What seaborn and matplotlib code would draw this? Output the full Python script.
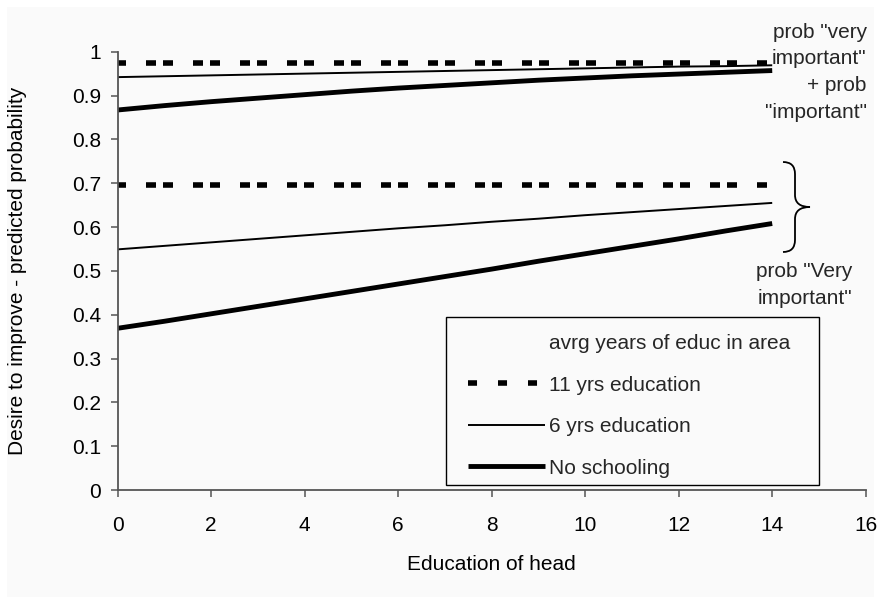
import matplotlib
matplotlib.use("Agg")
import matplotlib.pyplot as plt
import seaborn as sns
from matplotlib.lines import Line2D
from matplotlib.patches import Rectangle, PathPatch
from matplotlib.path import Path

# ---------------- data ----------------
educ_head = [0, 1, 2, 3, 4, 5, 6, 7, 8, 9, 10, 11, 12, 13, 14]

# prob "very important" + prob "important"
yrs11_total = [0.975, 0.975, 0.975, 0.975, 0.975, 0.975, 0.975, 0.975,
               0.975, 0.975, 0.975, 0.975, 0.975, 0.975, 0.975]
yrs6_total = [0.942, 0.944, 0.946, 0.948, 0.950, 0.952, 0.954, 0.956,
              0.958, 0.960, 0.962, 0.964, 0.966, 0.967, 0.969]
none_total = [0.867, 0.877, 0.886, 0.894, 0.902, 0.910, 0.917, 0.923,
              0.929, 0.935, 0.940, 0.945, 0.949, 0.953, 0.957]

# prob "Very important"
yrs11_very = [0.695, 0.695, 0.695, 0.695, 0.695, 0.695, 0.695, 0.695,
              0.695, 0.695, 0.695, 0.695, 0.695, 0.695, 0.695]
yrs6_very = [0.549, 0.557, 0.565, 0.573, 0.581, 0.589, 0.597, 0.604,
             0.612, 0.619, 0.627, 0.634, 0.641, 0.648, 0.655]
none_very = [0.369, 0.385, 0.402, 0.419, 0.436, 0.453, 0.470, 0.487,
             0.504, 0.522, 0.539, 0.556, 0.573, 0.591, 0.608]

series_labels = ["11 yrs education", "6 yrs education", "No schooling"]
legend_title = "avrg years of educ in area"
x_ticks = [0, 2, 4, 6, 8, 10, 12, 14, 16]
y_ticks = [0, 0.1, 0.2, 0.3, 0.4, 0.5, 0.6, 0.7, 0.8, 0.9, 1.0]
y_tick_labels = ["0", "0.1", "0.2", "0.3", "0.4", "0.5", "0.6", "0.7", "0.8", "0.9", "1"]

# ---------------- style ----------------
sns.set_theme(style="white")
plt.rcParams["font.family"] = ["Liberation Sans", "DejaVu Sans"]
plt.rcParams["lines.scale_dashes"] = False

FS = 15
W, H = 880, 603

def fx(px):
    return px / W

def fy(py):
    return 1 - py / H

fig = plt.figure(figsize=(8.8, 6.03), dpi=100)
fig.patch.set_facecolor("white")
fig.add_artist(Rectangle((fx(7), fy(597)), (874 - 7) / W, (597 - 7) / H,
                         transform=fig.transFigure, facecolor="#fafafa",
                         edgecolor="none", zorder=-10))

ax = fig.add_axes([fx(117.7), fy(490), 748 / W, 438.3 / H])
ax.set_facecolor("none")

dash_main = (1.44, (7.2, 14.4, 7.2, 5.04))
LW_DASH, LW_THIN, LW_THICK = 4.0, 1.4, 3.5

for ys in (yrs11_total, yrs11_very):
    sns.lineplot(x=educ_head, y=ys, ax=ax, color="black", linewidth=LW_DASH,
                 linestyle=dash_main)
for ys in (yrs6_total, yrs6_very):
    sns.lineplot(x=educ_head, y=ys, ax=ax, color="black", linewidth=LW_THIN,
                 solid_capstyle="butt")
for ys in (none_total, none_very):
    sns.lineplot(x=educ_head, y=ys, ax=ax, color="black", linewidth=LW_THICK,
                 solid_capstyle="butt")

ax.set_xlim(0, 16)
ax.set_ylim(0, 1)
ax.set_xticks(x_ticks)
ax.set_yticks(y_ticks)
ax.set_yticklabels(y_tick_labels)
for s in ("top", "right"):
    ax.spines[s].set_visible(False)
for s in ("left", "bottom"):
    ax.spines[s].set_color("#555555")
    ax.spines[s].set_linewidth(1.3)
ax.tick_params(axis="both", direction="out", length=5, width=1.1, color="#555555",
               labelsize=FS, labelcolor="black", bottom=True, left=True)
ax.tick_params(axis="x", pad=14)
ax.tick_params(axis="y", pad=7)

ax.set_xlabel("Education of head", fontsize=FS, color="black")
ax.xaxis.set_label_coords(0.5, (490 - 565) / 438.3)
ax.xaxis.label.set_va("center")
ax.set_ylabel("Desire to improve - predicted probability", fontsize=FS, color="black")
ax.yaxis.set_label_coords((18 - 117.7) / 748, 0.5)
ax.yaxis.label.set_va("center")

# legend frame and legend
ax.add_patch(Rectangle((0.4385, 0.0114), 0.4991, 0.383, transform=ax.transAxes,
                       facecolor="#fafafa", edgecolor="black", linewidth=1.0, zorder=5))
handles = [
    Line2D([], [], color="none"),
    Line2D([], [], color="black", linewidth=LW_DASH, linestyle=(0, (6.5, 15.1))),
    Line2D([], [], color="black", linewidth=LW_THIN, solid_capstyle="butt"),
    Line2D([], [], color="black", linewidth=LW_THICK, solid_capstyle="butt"),
]
labels = [legend_title] + series_labels
leg = ax.legend(handles, labels, loc="center left", bbox_to_anchor=(0.468, 0.192),
                frameon=False, fontsize=FS, borderpad=0, borderaxespad=0,
                handlelength=3.7, handletextpad=0.2, labelspacing=1.08)
leg.set_zorder(6)

# annotations
fig.text(fx(866.7), fy(23), 'prob "very\nimportant"\n+ prob\n"important"',
         ha="right", va="top", fontsize=FS, linespacing=1.5, multialignment="right")
fig.text(fx(852), fy(262), 'prob "Very\nimportant"',
         ha="right", va="top", fontsize=FS, linespacing=1.5, multialignment="right")

# curly brace
pts = [(783, 162), (795, 162), (795, 174), (795, 195), (795, 207), (810, 207),
       (795, 207), (795, 219), (795, 240), (795, 252), (783, 252)]
codes = [Path.MOVETO, Path.CURVE3, Path.CURVE3, Path.LINETO, Path.CURVE3, Path.CURVE3,
         Path.CURVE3, Path.CURVE3, Path.LINETO, Path.CURVE3, Path.CURVE3]
brace = Path([(fx(x), fy(y)) for x, y in pts], codes)
fig.add_artist(PathPatch(brace, transform=fig.transFigure, facecolor="none",
                         edgecolor="black", linewidth=1.3))

fig.savefig("out.png", dpi=100, facecolor=fig.get_facecolor())
